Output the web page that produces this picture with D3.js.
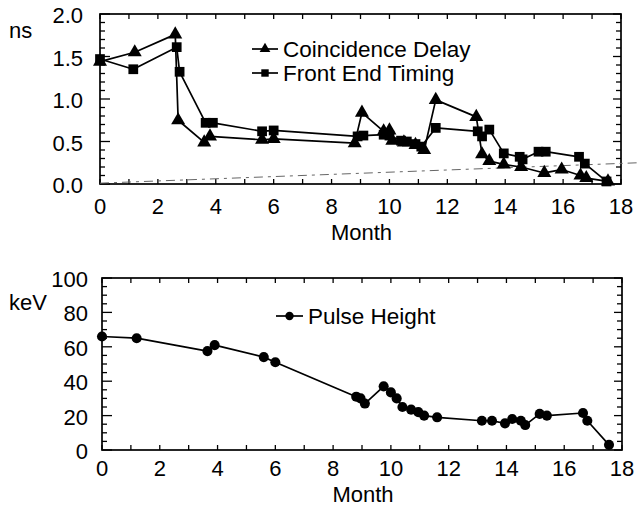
<!DOCTYPE html>
<html>
<head>
<meta charset="utf-8">
<script src="https://cdn.jsdelivr.net/npm/d3@7/dist/d3.min.js"></script>
<style>
  html, body { margin: 0; padding: 0; background: #fff; }
  svg { display: block; }
  text { font-family: "Liberation Sans", Arial, Helvetica, sans-serif; fill: #000; }
</style>
</head>
<body>
<svg id="chart" width="637" height="508"></svg>
<script>
// ---------- DATA ----------
const monthTicks = [0, 2, 4, 6, 8, 10, 12, 14, 16, 18];
const nsTickLabels = ["0.0", "0.5", "1.0", "1.5", "2.0"];
const keVTicks = [0, 20, 40, 60, 80, 100];

const coincidenceMonth = [0, 1.2, 2.6, 2.7, 3.6, 3.8, 5.6, 6.0, 8.8, 9.05, 9.8, 10.0, 10.1, 10.5, 10.9, 11.2, 11.6, 13.0, 13.2, 13.45, 13.95, 14.55, 15.35, 15.95, 16.6, 16.8, 17.55];
const coincidenceNs    = [1.44, 1.55, 1.76, 0.75, 0.49, 0.56, 0.52, 0.53, 0.48, 0.84, 0.62, 0.63, 0.51, 0.49, 0.46, 0.40, 0.99, 0.79, 0.35, 0.27, 0.23, 0.20, 0.13, 0.17, 0.10, 0.07, 0.03];

const frontEndMonth = [0, 1.15, 2.65, 2.75, 3.65, 3.9, 5.6, 6.0, 8.9, 9.1, 9.8, 10.0, 10.4, 10.6, 10.9, 11.1, 11.6, 13.05, 13.2, 13.45, 13.95, 14.5, 14.6, 15.15, 15.4, 16.55, 16.75, 17.5];
const frontEndNs    = [1.47, 1.35, 1.61, 1.32, 0.72, 0.72, 0.62, 0.63, 0.56, 0.57, 0.58, 0.57, 0.51, 0.50, 0.47, 0.44, 0.66, 0.62, 0.56, 0.64, 0.36, 0.32, 0.29, 0.38, 0.38, 0.32, 0.24, 0.03];

const baselineMonth = [0, 18.6];
const baselineNs    = [0.01, 0.25];

const pulseMonth = [0, 1.2, 3.65, 3.9, 5.6, 6.0, 8.8, 8.95, 9.1, 9.75, 10.0, 10.2, 10.4, 10.7, 10.95, 11.15, 11.6, 13.15, 13.5, 13.95, 14.2, 14.5, 14.65, 15.15, 15.4, 16.65, 16.8, 17.55];
const pulseKeV   = [66, 65, 57.5, 61, 54, 51, 31, 30, 27, 37, 33.5, 30, 25, 23.5, 22, 20, 19, 17, 17, 15.5, 18, 17, 14.5, 21, 20, 21.5, 17, 3];

// ---------- LAYOUT ----------
const svg = d3.select("#chart");
const FONT_TICK = 22, FONT_LEG = 22.5;

function drawPanel(cfg) {
  const g = svg.append("g");
  const x = d3.scaleLinear().domain([0, 18]).range([cfg.left, cfg.right]);
  const y = d3.scaleLinear().domain(cfg.yDomain).range([cfg.bottom, cfg.top]);

  g.append("rect")
    .attr("x", cfg.left).attr("y", cfg.top)
    .attr("width", cfg.right - cfg.left).attr("height", cfg.bottom - cfg.top)
    .attr("fill", "none").attr("stroke", "#000").attr("stroke-width", 1.7);

  const xt = d3.range(0, 19, 1);
  const xTickLen = 5;
  g.append("g").selectAll("line").data(xt).join("line")
    .attr("x1", d => x(d)).attr("x2", d => x(d))
    .attr("y1", cfg.bottom).attr("y2", cfg.bottom - xTickLen)
    .attr("stroke", "#000").attr("stroke-width", 1.3);
  g.append("g").selectAll("line").data(xt).join("line")
    .attr("x1", d => x(d)).attr("x2", d => x(d))
    .attr("y1", cfg.top).attr("y2", cfg.top + xTickLen)
    .attr("stroke", "#000").attr("stroke-width", 1.3);

  const yt = d3.range(0, cfg.nMinor + 1).map(i => cfg.yDomain[0] + i * cfg.minorStep);
  const isMajor = d => Math.abs(d / cfg.majorStep - Math.round(d / cfg.majorStep)) < 1e-6;
  g.append("g").selectAll("line").data(yt).join("line")
    .attr("x1", cfg.left).attr("x2", d => cfg.left + (isMajor(d) ? 10 : 5))
    .attr("y1", d => y(d)).attr("y2", d => y(d))
    .attr("stroke", "#000").attr("stroke-width", 1.3);
  g.append("g").selectAll("line").data(yt).join("line")
    .attr("x1", cfg.right).attr("x2", d => cfg.right - (isMajor(d) ? 8 : 5))
    .attr("y1", d => y(d)).attr("y2", d => y(d))
    .attr("stroke", "#000").attr("stroke-width", 1.3);

  g.append("g").selectAll("text").data(monthTicks).join("text")
    .attr("x", d => x(d)).attr("y", cfg.bottom + cfg.xLabelDy)
    .attr("text-anchor", "middle").attr("font-size", FONT_TICK)
    .text(d => d);

  g.append("g").selectAll("text").data(cfg.yTicks).join("text")
    .attr("x", cfg.yLabelX).attr("y", d => y(d) + cfg.yLabelDy)
    .attr("text-anchor", "end").attr("font-size", FONT_TICK)
    .text((d, i) => cfg.yTickText[i]);

  g.append("text").attr("x", (cfg.left + cfg.right) / 2 + 1).attr("y", cfg.monthY)
    .attr("text-anchor", "middle").attr("font-size", FONT_TICK).text("Month");
  g.append("text").attr("x", 9).attr("y", cfg.unitY)
    .attr("font-size", FONT_TICK).text(cfg.unit);

  return { g, x, y };
}

const lineGen = (xs, ys, xsc, ysc) => d3.line().x(i => xsc(xs[i])).y(i => ysc(ys[i]))(d3.range(xs.length));

function series(panel, xs, ys, symbol, size) {
  panel.g.append("path")
    .attr("d", lineGen(xs, ys, panel.x, panel.y))
    .attr("fill", "none").attr("stroke", "#000").attr("stroke-width", 1.7)
    .attr("stroke-linejoin", "round");
  panel.g.append("g").selectAll("path").data(d3.range(xs.length)).join("path")
    .attr("transform", i => `translate(${panel.x(xs[i])},${panel.y(ys[i])})`)
    .attr("d", d3.symbol().type(symbol).size(size))
    .attr("fill", "#000");
}

function legendItem(g, x1, x2, y, symbol, size, label) {
  g.append("line").attr("x1", x1).attr("x2", x2).attr("y1", y).attr("y2", y)
    .attr("stroke", "#000").attr("stroke-width", 1.7);
  g.append("path").attr("transform", `translate(${(x1 + x2) / 2},${y})`)
    .attr("d", d3.symbol().type(symbol).size(size)).attr("fill", "#000");
  g.append("text").attr("x", x2 + 5).attr("y", y + 8)
    .attr("font-size", FONT_LEG).text(label);
}

// ---------- TOP PANEL ----------
const topPanel = drawPanel({
  left: 100, right: 621, top: 14, bottom: 184,
  yDomain: [0, 2], nMinor: 20, minorStep: 0.1, majorStep: 0.5,
  yTicks: [0, 0.5, 1, 1.5, 2], yTickText: nsTickLabels,
  yLabelX: 83, yLabelDy: 9, xLabelDy: 30, monthY: 240,
  unit: "ns", unitY: 38
});

topPanel.g.append("path")
  .attr("d", lineGen(baselineMonth, baselineNs, topPanel.x, topPanel.y))
  .attr("fill", "none").attr("stroke", "#666").attr("stroke-width", 1)
  .attr("stroke-dasharray", "9,5,3,5");

series(topPanel, coincidenceMonth, coincidenceNs, d3.symbolTriangle, 85);
series(topPanel, frontEndMonth, frontEndNs, d3.symbolSquare, 95);

legendItem(topPanel.g, 252, 278, 49, d3.symbolTriangle, 50, "Coincidence Delay");
legendItem(topPanel.g, 252, 278, 73, d3.symbolSquare, 55, "Front End Timing");

// ---------- BOTTOM PANEL ----------
const botPanel = drawPanel({
  left: 102, right: 622, top: 278, bottom: 450,
  yDomain: [0, 100], nMinor: 20, minorStep: 5, majorStep: 20,
  yTicks: keVTicks, yTickText: keVTicks.map(String),
  yLabelX: 88, yLabelDy: 9, xLabelDy: 26, monthY: 502,
  unit: "keV", unitY: 310
});

series(botPanel, pulseMonth, pulseKeV, d3.symbolCircle, 80);
legendItem(botPanel.g, 276, 303, 316, d3.symbolCircle, 55, "Pulse Height");
</script>
</body>
</html>
